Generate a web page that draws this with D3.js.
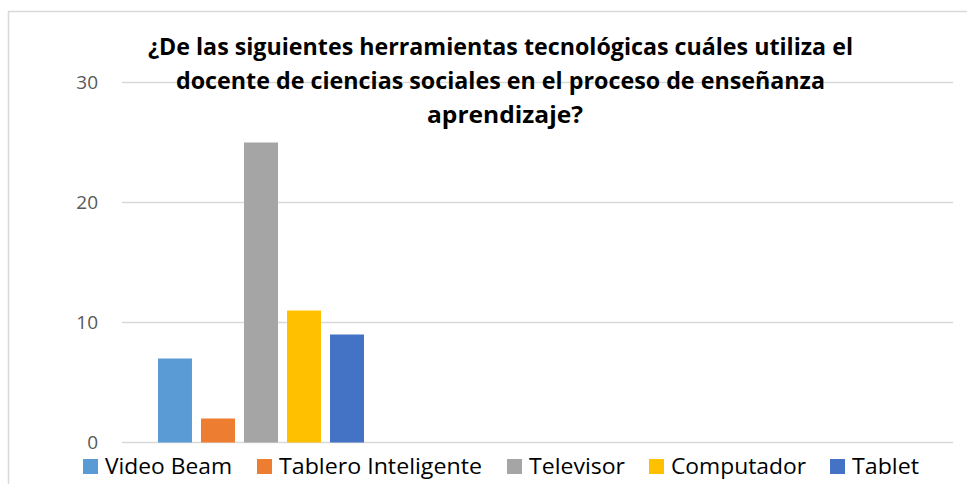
<!DOCTYPE html>
<html>
<head>
<meta charset="utf-8">
<script src="https://cdn.jsdelivr.net/npm/d3@7"></script>
<style>
  body { margin: 0; background: #fff; }
  svg { display: block; font-family: "Open Sans", "Noto Sans", sans-serif; }
</style>
</head>
<body>
<svg id="svg" width="967" height="484"></svg>
<script>
// data
var series = ["Video Beam", "Tablero Inteligente", "Televisor", "Computador", "Tablet"];
var values = [7, 2, 25, 11, 9];
var colors = ["#5b9bd5", "#ed7d31", "#a5a5a5", "#ffc000", "#4472c4"];
var categorySlots = [0, 1, 2];   // excel axis has 3 slots, only the first one holds data
var yTicks = [0, 10, 20, 30];
var titleLines = [
  "¿De las siguientes herramientas tecnológicas cuáles utiliza el",
  "docente de ciencias sociales en el proceso de enseñanza",
  "aprendizaje?"
];

var svg = d3.select("#svg");

// chart border (only top/left visible in the crop)
svg.append("rect")
  .attr("x", 8.5).attr("y", 11.5)
  .attr("width", 1000).attr("height", 600)
  .attr("fill", "none")
  .attr("stroke", "#d9d9d9")
  .attr("stroke-width", 1.5);

var plotL = 122, plotR = 953, plotT = 82.5, plotB = 442.5;

var y = d3.scaleLinear().domain([0, 30]).range([plotB, plotT]);
var x = d3.scaleBand().domain(categorySlots).range([plotL, plotR]);
var inner = d3.scaleBand().domain(series)
  .range([36, x.bandwidth() - 35]).paddingInner(0.21);

// gridlines
svg.append("g").selectAll("line")
  .data(yTicks).enter().append("line")
  .attr("x1", plotL).attr("x2", plotR)
  .attr("y1", function(d) { return y(d); })
  .attr("y2", function(d) { return y(d); })
  .attr("stroke", "#d9d9d9")
  .attr("stroke-width", 1.5);

// y axis labels
var yAxis = d3.axisLeft(y).tickValues(yTicks).tickSize(0).tickPadding(24);
svg.append("g")
  .attr("transform", "translate(" + plotL + ",0)")
  .call(yAxis)
  .call(function(g) {
    g.select(".domain").remove();
    g.selectAll("text")
      .attr("font-size", 19)
      .attr("font-family", "Open Sans, sans-serif")
      .attr("fill", "#595959");
  });

// bars
svg.append("g").selectAll("rect")
  .data(values).enter().append("rect")
  .attr("x", function(d, i) { return x(0) + inner(series[i]); })
  .attr("width", inner.bandwidth())
  .attr("y", function(d) { return y(d); })
  .attr("height", function(d) { return y(0) - y(d); })
  .attr("fill", function(d, i) { return colors[i]; });

// title
var titleW = [705, 649, 156];
var titleX = [500.5, 500.5, 505];
svg.append("g").selectAll("text")
  .data(titleLines).enter().append("text")
  .attr("x", function(d, i) { return titleX[i]; })
  .attr("y", function(d, i) { return 55 + i * 34; })
  .attr("text-anchor", "middle")
  .attr("font-size", 23)
  .attr("font-weight", "bold")
  .attr("fill", "#000")
  .attr("textLength", function(d, i) { return titleW[i]; })
  .attr("lengthAdjust", "spacingAndGlyphs")
  .text(function(d) { return d; });

// legend
var legX = [83, 257, 507, 649, 830];
var legW = [127, 203, 96, 135, 67];
var leg = svg.append("g").selectAll("g")
  .data(series).enter().append("g")
  .attr("transform", function(d, i) { return "translate(" + legX[i] + ",459)"; });
leg.append("rect")
  .attr("width", 15).attr("height", 15)
  .attr("fill", function(d, i) { return colors[i]; });
leg.append("text")
  .attr("x", 22).attr("y", 15)
  .attr("font-size", 21)
  .attr("fill", "#000")
  .attr("textLength", function(d, i) { return legW[i]; })
  .attr("lengthAdjust", "spacingAndGlyphs")
  .text(function(d) { return d; });
</script>
</body>
</html>
